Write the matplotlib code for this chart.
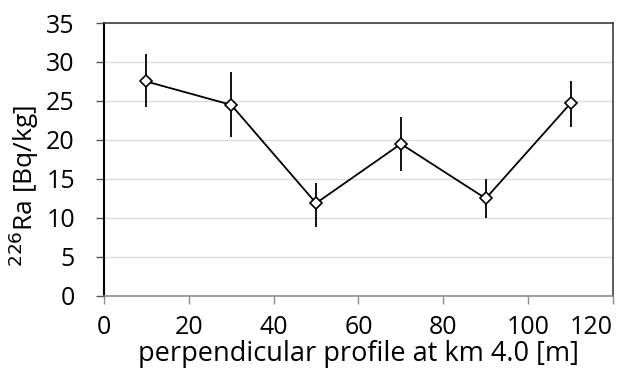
import matplotlib
matplotlib.use("Agg")
import matplotlib.pyplot as plt

# profile position [m] and 226Ra activity [Bq/kg]
posicao = [10, 30, 50, 70, 90, 110]
ra226 = [27.5, 24.5, 11.9, 19.5, 12.5, 24.7]
erro_inf = [3.3, 4.1, 3.0, 3.5, 2.5, 3.0]
erro_sup = [3.5, 4.2, 2.6, 3.5, 2.5, 2.9]

xticks = [0, 20, 40, 60, 80, 100, 120]
yticks = [0, 5, 10, 15, 20, 25, 30, 35]

plt.rcParams['font.family'] = ['Open Sans', 'DejaVu Sans']

fig = plt.figure(figsize=(6.22, 3.71), dpi=100)
ax = fig.add_axes([0.1672, 0.2022, 0.8183, 0.7358])

ax.errorbar(posicao, ra226, yerr=[erro_inf, erro_sup], color='black',
            linewidth=1.3, elinewidth=1.3, capsize=0, marker='D',
            markersize=6, markerfacecolor='white', markeredgecolor='black',
            markeredgewidth=1.2, zorder=3)

ax.set_xlim(0, 120)
ax.set_ylim(0, 35)
ax.set_xticks(xticks)
ax.set_yticks(yticks)
ax.yaxis.grid(True, color='#dcdcdc', linewidth=1.0)
ax.set_axisbelow(True)

for lado in ['top', 'right']:
    ax.spines[lado].set_color('#404040')
    ax.spines[lado].set_linewidth(1.2)
ax.spines['left'].set_linewidth(1.5)
ax.spines['bottom'].set_color('#8c8c8c')
ax.spines['bottom'].set_linewidth(1.2)

ax.tick_params(axis='x', direction='out', length=6, width=1.0, color='#8c8c8c',
               labelsize=18, pad=8)
ax.tick_params(axis='y', direction='out', length=6, width=1.0, color='#555555',
               labelsize=18, pad=15)
# ultimo rotulo encostado na borda
ax.get_xticklabels()[-1].set_horizontalalignment('right')

ax.set_xlabel("perpendicular profile at km 4.0 [m]", fontsize=19.5, labelpad=0)
ax.set_ylabel("$^{226}$Ra [Bq/kg]", fontsize=19)
ax.yaxis.set_label_coords(-0.124, 0.405)

fig.savefig("out.png", dpi=100)
